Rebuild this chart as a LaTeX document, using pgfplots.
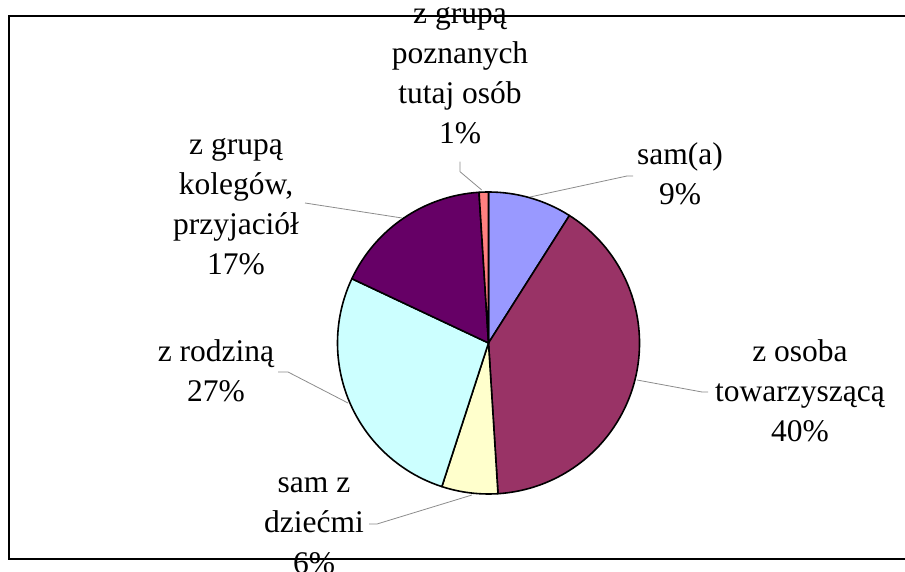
\documentclass[border=0pt]{standalone}
\usepackage{pgfplots}
\pgfplotsset{compat=1.18}
\usepackage{fontspec}
\setmainfont{Liberation Serif}
\definecolor{cSama}{HTML}{9999FF}
\definecolor{cOsoba}{HTML}{993366}
\definecolor{cDzieci}{HTML}{FFFFCC}
\definecolor{cRodzina}{HTML}{CCFFFF}
\definecolor{cKoleg}{HTML}{660066}
\definecolor{cPozn}{HTML}{FF8080}
\definecolor{leader}{HTML}{8C8C8C}
% data (percent)
\def\vSama{9}\def\vOsoba{40}\def\vDzieci{6}\def\vRodzina{27}\def\vKoleg{17}\def\vPozn{1}
\pgfmathsetmacro\aO{90}
\pgfmathsetmacro\aA{\aO-3.6*\vSama}
\pgfmathsetmacro\aB{\aA-3.6*\vOsoba}
\pgfmathsetmacro\aC{\aB-3.6*\vDzieci}
\pgfmathsetmacro\aD{\aC-3.6*\vRodzina}
\pgfmathsetmacro\aE{\aD-3.6*\vKoleg}
\pgfmathsetmacro\aF{\aE-3.6*\vPozn}
\begin{document}
\begin{tikzpicture}
\begin{axis}[at={(0,0)}, anchor=south west, scale only axis,
  width=905bp, height=572bp, xmin=0, xmax=905, ymin=0, ymax=572,
  hide axis, clip=false]
\draw[black, line width=1.5bp] (axis cs:906,556) -- (axis cs:9,556) -- (axis cs:9,13) -- (axis cs:906,13);
% slices
\def\R{151bp}
\filldraw[fill=cSama, draw=black, line width=1.6bp, line join=round] (axis cs:488.5,229) -- ++(\aO:\R) arc[start angle=\aO, end angle=\aA, radius=\R] -- cycle;
\filldraw[fill=cOsoba, draw=black, line width=1.6bp, line join=round] (axis cs:488.5,229) -- ++(\aA:\R) arc[start angle=\aA, end angle=\aB, radius=\R] -- cycle;
\filldraw[fill=cDzieci, draw=black, line width=1.6bp, line join=round] (axis cs:488.5,229) -- ++(\aB:\R) arc[start angle=\aB, end angle=\aC, radius=\R] -- cycle;
\filldraw[fill=cRodzina, draw=black, line width=1.6bp, line join=round] (axis cs:488.5,229) -- ++(\aC:\R) arc[start angle=\aC, end angle=\aD, radius=\R] -- cycle;
\filldraw[fill=cKoleg, draw=black, line width=1.6bp, line join=round] (axis cs:488.5,229) -- ++(\aD:\R) arc[start angle=\aD, end angle=\aE, radius=\R] -- cycle;
\filldraw[fill=cPozn, draw=black, line width=1.6bp, line join=round] (axis cs:488.5,229) -- ++(\aE:\R) arc[start angle=\aE, end angle=\aF, radius=\R] -- cycle;
% leader lines
\draw[leader, line width=0.8bp] (axis cs:530,375) -- (axis cs:627,396) -- (axis cs:633,396);
\draw[leader, line width=0.8bp] (axis cs:637,192) -- (axis cs:702,180) -- (axis cs:708,180);
\draw[leader, line width=0.8bp] (axis cs:472,77) -- (axis cs:377,48) -- (axis cs:369,48);
\draw[leader, line width=0.8bp] (axis cs:348,169) -- (axis cs:288,200) -- (axis cs:278,200);
\draw[leader, line width=0.8bp] (axis cs:402,354) -- (axis cs:305,369);
\draw[leader, line width=0.8bp] (axis cs:481.7,382) -- (axis cs:460,400.3) -- (axis cs:460,410.3);
% labels
\tikzset{lab/.style={anchor=base, inner sep=0pt, font=\fontsize{31.5bp}{40bp}\selectfont}}
\node[lab] at (axis cs:460,548) {z grupą};
\node[lab] at (axis cs:460,508) {poznanych};
\node[lab] at (axis cs:460,468) {tutaj osób};
\node[lab] at (axis cs:460,428) {1\%};
\node[lab] at (axis cs:680,407) {sam(a)};
\node[lab] at (axis cs:680,367) {9\%};
\node[lab] at (axis cs:800,210) {z osoba};
\node[lab] at (axis cs:800,170) {towarzyszącą};
\node[lab] at (axis cs:800,130) {40\%};
\node[lab] at (axis cs:314,79) {sam z};
\node[lab] at (axis cs:314,39) {dziećmi};
\node[lab] at (axis cs:314,-1) {6\%};
\node[lab] at (axis cs:216,210) {z rodziną};
\node[lab] at (axis cs:216,170) {27\%};
\node[lab] at (axis cs:236,417) {z grupą};
\node[lab] at (axis cs:236,377) {kolegów,};
\node[lab] at (axis cs:236,337) {przyjaciół};
\node[lab] at (axis cs:236,297) {17\%};
\end{axis}
\pgfresetboundingbox
\path[use as bounding box] (0,0) rectangle (905bp,572bp);
\end{tikzpicture}
\end{document}
